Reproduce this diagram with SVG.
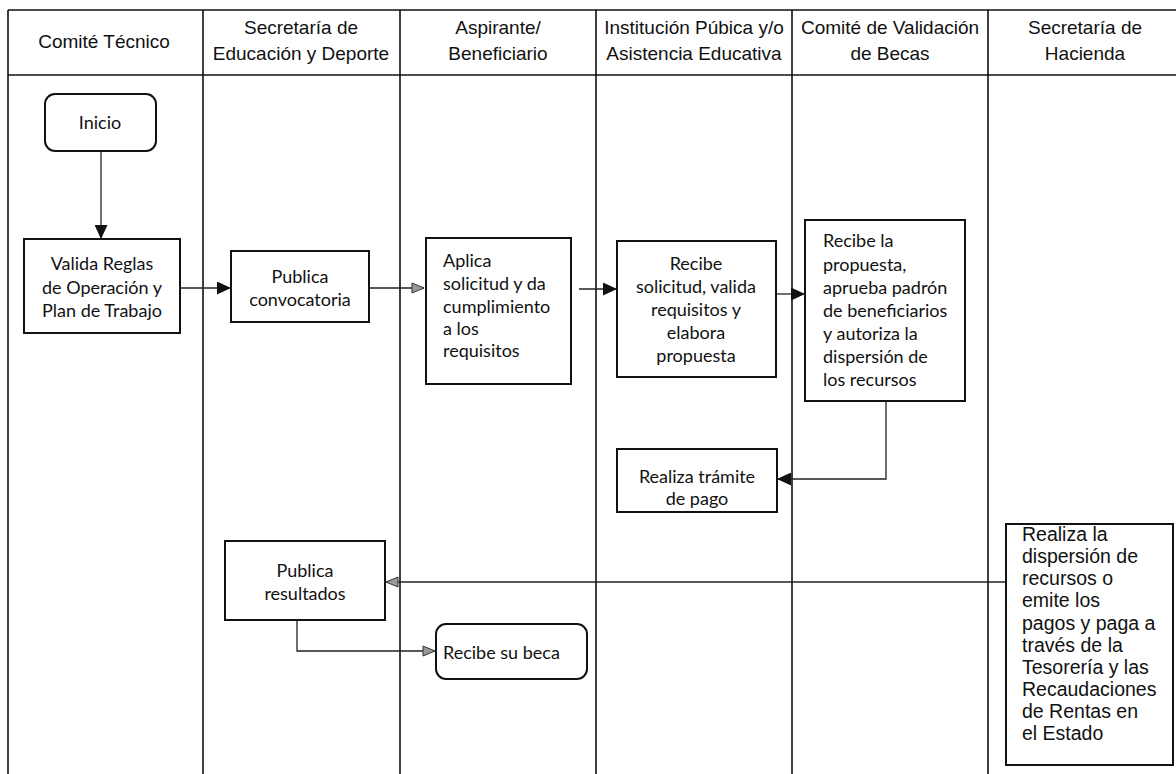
<svg xmlns="http://www.w3.org/2000/svg" width="1176" height="774" viewBox="0 0 1176 774">
<style>
.lane{stroke:#111;stroke-width:1.6;fill:none}
.box{fill:#fff;stroke:#111;stroke-width:2}
.hd{font-family:"Liberation Sans",Arial,sans-serif;font-size:19px;fill:#111;text-anchor:middle}
.t{font-family:Lato,"Open Sans",sans-serif;font-size:18px;fill:#111}
.c{text-anchor:middle}
.ha{font-family:"Liberation Sans",Arial,sans-serif;font-size:19.5px;fill:#111}
.cn{fill:none;stroke:#222;stroke-width:1.3}
</style>
<defs>
<marker id="ab" markerWidth="15" markerHeight="13" refX="14" refY="6.5" orient="auto" markerUnits="userSpaceOnUse">
<path d="M0,0 L14,6.5 L0,13 Z" fill="#111"/>
</marker>
<marker id="ag" markerWidth="14" markerHeight="12" refX="13" refY="6" orient="auto" markerUnits="userSpaceOnUse">
<path d="M1,1 L13,6 L1,11 Z" fill="#999" stroke="#333" stroke-width="1"/>
</marker>
</defs>
<rect width="1176" height="774" fill="#fff"/>
<g id="lanes">
<line class="lane" x1="8" y1="10" x2="1182" y2="10"/>
<line class="lane" x1="8" y1="75" x2="1182" y2="75"/>
<line class="lane" x1="8" y1="10" x2="8" y2="774"/>
<line class="lane" x1="203" y1="10" x2="203" y2="774"/>
<line class="lane" x1="400" y1="10" x2="400" y2="774"/>
<line class="lane" x1="596" y1="10" x2="596" y2="774"/>
<line class="lane" x1="792" y1="10" x2="792" y2="774"/>
<line class="lane" x1="988" y1="10" x2="988" y2="774"/>
<text class="hd" x="104" y="48">Comité Técnico</text>
<text class="hd" x="301" y="34">Secretaría de</text>
<text class="hd" x="301" y="60">Educación y Deporte</text>
<text class="hd" x="498" y="34">Aspirante/</text>
<text class="hd" x="498" y="60">Beneficiario</text>
<text class="hd" x="694" y="34">Institución Púbica y/o</text>
<text class="hd" x="694" y="60">Asistencia Educativa</text>
<text class="hd" x="890" y="34">Comité de Validación</text>
<text class="hd" x="890" y="60">de Becas</text>
<text class="hd" x="1085" y="34">Secretaría de</text>
<text class="hd" x="1085" y="60">Hacienda</text>
</g>
<g id="connectors">
<line class="cn" x1="101" y1="151" x2="101" y2="239" marker-end="url(#ab)"/>
<line class="cn" x1="180" y1="288" x2="231" y2="288" marker-end="url(#ab)"/>
<line class="cn" x1="369" y1="288" x2="424" y2="288" marker-end="url(#ag)"/>
<line class="cn" x1="579" y1="289" x2="617" y2="289" marker-end="url(#ab)"/>
<line class="cn" x1="775" y1="294" x2="805" y2="294" marker-end="url(#ab)"/>
<polyline class="cn" points="886,401 886,479 777,479" marker-end="url(#ab)"/>
<line class="cn" x1="1006" y1="582" x2="386" y2="582" marker-end="url(#ag)"/>
<polyline class="cn" points="297,620 297,651 435,651" marker-end="url(#ag)"/>
</g>
<g id="inicio">
<rect class="box" x="45" y="94" width="111" height="57" rx="10"/>
<text class="t c" x="100" y="129">Inicio</text>
</g>
<g id="valida">
<rect class="box" x="24" y="239" width="156" height="94"/>
<text class="t c" x="102" y="270">Valida Reglas</text>
<text class="t c" x="102" y="294">de Operación y</text>
<text class="t c" x="102" y="317">Plan de Trabajo</text>
</g>
<g id="publica-convocatoria">
<rect class="box" x="231" y="251" width="138" height="71"/>
<text class="t c" x="300" y="283">Publica</text>
<text class="t c" x="300" y="306">convocatoria</text>
</g>
<g id="aplica">
<rect class="box" x="426" y="238" width="145" height="146"/>
<text class="t" x="443" y="267">Aplica</text>
<text class="t" x="443" y="290">solicitud y da</text>
<text class="t" x="443" y="313">cumplimiento</text>
<text class="t" x="443" y="335">a los</text>
<text class="t" x="443" y="357">requisitos</text>
</g>
<g id="recibe-solicitud">
<rect class="box" x="617" y="241" width="159" height="136"/>
<text class="t c" x="696" y="270">Recibe</text>
<text class="t c" x="696" y="293">solicitud, valida</text>
<text class="t c" x="696" y="316">requisitos y</text>
<text class="t c" x="696" y="339">elabora</text>
<text class="t c" x="696" y="362">propuesta</text>
</g>
<g id="recibe-propuesta">
<rect class="box" x="805" y="220" width="160" height="181"/>
<text class="t" x="823" y="247">Recibe la</text>
<text class="t" x="823" y="271">propuesta,</text>
<text class="t" x="823" y="294">aprueba padrón</text>
<text class="t" x="823" y="317">de beneficiarios</text>
<text class="t" x="823" y="340">y autoriza la</text>
<text class="t" x="823" y="363">dispersión de</text>
<text class="t" x="823" y="386">los recursos</text>
</g>
<g id="realiza-tramite">
<rect class="box" x="617" y="449" width="160" height="63"/>
<text class="t c" x="697" y="483">Realiza trámite</text>
<text class="t c" x="697" y="505">de pago</text>
</g>
<g id="publica-resultados">
<rect class="box" x="225" y="541" width="160" height="79"/>
<text class="t c" x="305" y="577">Publica</text>
<text class="t c" x="305" y="600">resultados</text>
</g>
<g id="recibe-beca">
<rect class="box" x="436" y="624" width="151" height="55" rx="10"/>
<text class="t" x="443" y="659">Recibe su beca</text>
</g>
<g id="hacienda">
<rect class="box" x="1006" y="524" width="167" height="241"/>
<text class="ha" x="1022" y="541">Realiza la</text>
<text class="ha" x="1022" y="563">dispersión de</text>
<text class="ha" x="1022" y="585">recursos o</text>
<text class="ha" x="1022" y="607">emite los</text>
<text class="ha" x="1022" y="630">pagos y paga a</text>
<text class="ha" x="1022" y="652">través de la</text>
<text class="ha" x="1022" y="674">Tesorería y las</text>
<text class="ha" x="1022" y="696">Recaudaciones</text>
<text class="ha" x="1022" y="718">de Rentas en</text>
<text class="ha" x="1022" y="740">el Estado</text>
</g>
</svg>
